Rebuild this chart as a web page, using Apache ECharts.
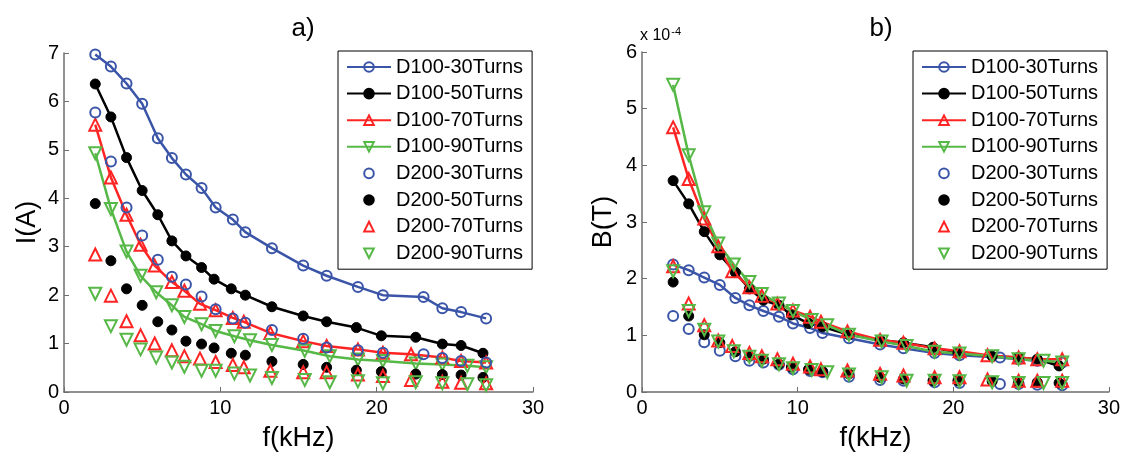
<!DOCTYPE html>
<html>
<head>
<meta charset="utf-8">
<script src="https://cdn.jsdelivr.net/npm/echarts@6/dist/echarts.min.js"></script>
<style>
  html, body { margin: 0; padding: 0; background: #fff; }
  #chart { width: 1123px; height: 457px; }
</style>
</head>
<body>
<div id="chart"></div>
<script>
// frequencies (kHz) per number of turns
var freq30 = [2, 3, 4, 5, 6, 6.9, 7.8, 8.8, 9.7, 10.8, 11.6, 13.3, 15.3, 16.8, 18.8, 20.4, 23, 24.2, 25.4, 27];
var freq50 = [2, 3, 4, 5, 6, 6.9, 7.8, 8.8, 9.6, 10.7, 11.6, 13.3, 15.3, 16.8, 18.7, 20.3, 22.5, 24.2, 25.4, 26.8];
var freq70 = [2, 3, 4, 4.9, 5.8, 6.9, 7.7, 8.7, 9.7, 10.8, 11.5, 13.2, 15.3, 16.8, 18.8, 20.4, 22.2, 24.2, 25.4, 27];
var freq90 = [2, 3, 4, 4.9, 5.9, 6.9, 7.7, 8.8, 9.7, 10.9, 11.9, 13.3, 15.4, 17, 18.8, 20.4, 22.5, 24.2, 25.8, 27];

var seriesNames = ['D100-30Turns', 'D100-50Turns', 'D100-70Turns', 'D100-90Turns',
                   'D200-30Turns', 'D200-50Turns', 'D200-70Turns', 'D200-90Turns'];

// a) current I(A)
var iD100_30 = [6.97, 6.72, 6.37, 5.95, 5.24, 4.83, 4.49, 4.21, 3.81, 3.56, 3.30, 2.97, 2.61, 2.40, 2.17, 2.00, 1.96, 1.73, 1.65, 1.52];
var iD100_50 = [6.36, 5.68, 4.84, 4.16, 3.66, 3.12, 2.81, 2.57, 2.33, 2.13, 2.00, 1.76, 1.57, 1.45, 1.33, 1.16, 1.13, 0.99, 0.96, 0.80];
var iD100_70 = [5.52, 4.43, 3.66, 3.04, 2.61, 2.27, 2.09, 1.82, 1.69, 1.53, 1.45, 1.22, 1.05, 0.95, 0.88, 0.81, 0.78, 0.71, 0.64, 0.61];
var iD100_90 = [4.93, 3.78, 2.90, 2.40, 2.06, 1.79, 1.55, 1.40, 1.26, 1.15, 1.07, 0.97, 0.85, 0.74, 0.67, 0.64, 0.59, 0.57, 0.54, 0.51];
var iD200_30 = [5.77, 4.76, 3.81, 3.23, 2.73, 2.38, 2.22, 1.97, 1.71, 1.52, 1.43, 1.28, 1.10, 0.92, 0.86, 0.81, 0.78, 0.70, 0.64, 0.61];
var iD200_50 = [3.89, 2.71, 2.13, 1.79, 1.45, 1.28, 1.05, 0.99, 0.91, 0.80, 0.76, 0.63, 0.57, 0.51, 0.45, 0.42, 0.37, 0.36, 0.35, 0.30];
var iD200_70 = [2.84, 1.99, 1.46, 1.17, 1.00, 0.86, 0.74, 0.69, 0.62, 0.56, 0.51, 0.44, 0.41, 0.41, 0.36, 0.33, 0.25, 0.21, 0.19, 0.18];
var iD200_90 = [2.03, 1.36, 1.08, 0.88, 0.71, 0.61, 0.52, 0.44, 0.44, 0.38, 0.34, 0.29, 0.25, 0.20, 0.22, 0.18, 0.20, 0.18, 0.16, 0.14];

// b) flux density B(T), x 10^-4
var bD100_30 = [2.25, 2.15, 2.02, 1.89, 1.66, 1.53, 1.43, 1.33, 1.21, 1.13, 1.04, 0.95, 0.84, 0.77, 0.69, 0.65, 0.61, 0.58, 0.55, 0.52];
var bD100_50 = [3.73, 3.32, 2.83, 2.42, 2.11, 1.82, 1.62, 1.53, 1.36, 1.21, 1.15, 1.01, 0.92, 0.87, 0.79, 0.69, 0.63, 0.61, 0.58, 0.46];
var bD100_70 = [4.67, 3.76, 3.06, 2.57, 2.13, 1.85, 1.70, 1.56, 1.44, 1.33, 1.24, 1.07, 0.92, 0.87, 0.77, 0.72, 0.65, 0.61, 0.58, 0.58];
var bD100_90 = [5.42, 4.18, 3.17, 2.62, 2.25, 1.94, 1.73, 1.56, 1.43, 1.27, 1.18, 1.01, 0.89, 0.81, 0.71, 0.68, 0.63, 0.58, 0.55, 0.52];
var bD200_30 = [1.34, 1.11, 0.88, 0.73, 0.63, 0.55, 0.52, 0.48, 0.40, 0.37, 0.35, 0.27, 0.21, 0.20, 0.17, 0.16, 0.14, 0.14, 0.13, 0.12];
var bD200_50 = [1.94, 1.34, 1.01, 0.87, 0.71, 0.63, 0.58, 0.49, 0.44, 0.40, 0.36, 0.32, 0.26, 0.23, 0.20, 0.20, 0.19, 0.17, 0.17, 0.16];
var bD200_70 = [2.22, 1.56, 1.18, 0.91, 0.81, 0.69, 0.63, 0.58, 0.50, 0.45, 0.40, 0.38, 0.32, 0.29, 0.26, 0.26, 0.22, 0.20, 0.20, 0.20];
var bD200_90 = [2.13, 1.43, 1.10, 0.89, 0.72, 0.62, 0.55, 0.49, 0.42, 0.39, 0.35, 0.31, 0.26, 0.20, 0.20, 0.19, 0.17, 0.16, 0.16, 0.16];

var xTicks = [0, 10, 20, 30];
var iTicks = [0, 1, 2, 3, 4, 5, 6, 7];
var bTicks = [0, 1, 2, 3, 4, 5, 6];

var BLUE = '#3a55a8', BLACK = '#000000', RED = '#ff2424', GREEN = '#56b846';
var FONT = '"Liberation Sans", Arial, sans-serif';
var AXIS_GRAY = '#6e6e6e';

function pairs(xs, ys) {
    return xs.map(function (x, i) { return [x, ys[i]]; });
}

// marker look per turn count
var markers = {
    30: { symbol: 'circle', size: 10, rotate: 0, hollow: true },
    50: { symbol: 'circle', size: 10, rotate: 0, hollow: false },
    70: { symbol: 'triangle', size: 12, rotate: 0, hollow: true },
    90: { symbol: 'triangle', size: 12, rotate: 180, hollow: true }
};

// D200 sets are markers only: drawn as line series with a hidden line,
// so the legend icon keeps the marker shape and rotation
function makeSeries(name, xs, ys, color, turns, withLine, idx) {
    var m = markers[turns];
    return {
        name: name,
        type: 'line',
        xAxisIndex: idx,
        yAxisIndex: idx,
        data: pairs(xs, ys),
        symbol: m.symbol,
        symbolSize: m.size,
        symbolRotate: m.rotate,
        symbolKeepAspect: true,
        showSymbol: true,
        showAllSymbol: true,
        lineStyle: withLine ? { color: color, width: 2.5 } : { color: color, width: 0, opacity: 0 },
        itemStyle: m.hollow
            ? { color: 'rgba(255,255,255,0)', borderColor: color, borderWidth: 2, opacity: 1 }
            : { color: color, borderColor: color, borderWidth: 1, opacity: 1 },
        emphasis: { disabled: true },
        animation: false
    };
}

function xAxisFor(idx) {
    return {
        gridIndex: idx,
        type: 'value',
        min: 0, max: 30, interval: 10,
        name: 'f(kHz)',
        nameLocation: 'middle',
        nameGap: 33,
        nameTextStyle: { fontFamily: FONT, fontSize: 27, color: '#000' },
        axisLine: { lineStyle: { color: AXIS_GRAY, width: 1.5 } },
        axisTick: { inside: true, length: 5, lineStyle: { color: AXIS_GRAY } },
        axisLabel: { fontFamily: FONT, fontSize: 20, color: '#000', margin: 6,
                     customValues: xTicks },
        splitLine: { show: false }
    };
}

function yAxisFor(idx, name, max, gap, ticks) {
    return {
        gridIndex: idx,
        type: 'value',
        min: 0, max: max, interval: 1,
        name: name,
        nameLocation: 'middle',
        nameGap: gap,
        nameTextStyle: { fontFamily: FONT, fontSize: 27, color: '#000' },
        axisLine: { show: true, lineStyle: { color: AXIS_GRAY, width: 1.5 } },
        axisTick: { show: true, inside: true, length: 5, lineStyle: { color: AXIS_GRAY } },
        axisLabel: { fontFamily: FONT, fontSize: 20, color: '#000', margin: 5,
                     customValues: ticks },
        splitLine: { show: false }
    };
}

function legendFor(left) {
    return {
        orient: 'vertical',
        left: left,
        top: 51,
        data: seriesNames,
        itemWidth: 44,
        itemHeight: 12,
        itemGap: 6.6,
        padding: [6, 9, 6, 8],
        borderColor: '#000',
        borderWidth: 1,
        selectedMode: false,
        textStyle: { fontFamily: FONT, fontSize: 20, color: '#000' }
    };
}

var chart = echarts.init(document.getElementById('chart'));

var option = {
    backgroundColor: '#fff',
    animation: false,
    title: [
        { text: 'a)', left: 298, top: 11, textAlign: 'center',
          textStyle: { fontFamily: FONT, fontSize: 26, fontWeight: 'normal', color: '#000' } },
        { text: 'b)', left: 876, top: 11, textAlign: 'center',
          textStyle: { fontFamily: FONT, fontSize: 26, fontWeight: 'normal', color: '#000' } }
    ],
    grid: [
        { left: 64, right: 590, top: 53, bottom: 59 },
        { left: 642, right: 14, top: 52, bottom: 59 }
    ],
    xAxis: [xAxisFor(0), xAxisFor(1)],
    yAxis: [yAxisFor(0, 'I(A)', 7, 23, iTicks), yAxisFor(1, 'B(T)', 6, 25, bTicks)],
    legend: [legendFor(338), legendFor(913)],
    graphic: [{
        type: 'text',
        left: 640,
        top: 26,
        style: {
            text: 'x 10{sup|-4}',
            font: '16px ' + FONT,
            fill: '#000',
            rich: { sup: { fontSize: 11, fontFamily: FONT, padding: [0, 0, 9, 1] } }
        }
    }],
    series: [
        makeSeries(seriesNames[0], freq30, iD100_30, BLUE, 30, true, 0),
        makeSeries(seriesNames[1], freq50, iD100_50, BLACK, 50, true, 0),
        makeSeries(seriesNames[2], freq70, iD100_70, RED, 70, true, 0),
        makeSeries(seriesNames[3], freq90, iD100_90, GREEN, 90, true, 0),
        makeSeries(seriesNames[4], freq30, iD200_30, BLUE, 30, false, 0),
        makeSeries(seriesNames[5], freq50, iD200_50, BLACK, 50, false, 0),
        makeSeries(seriesNames[6], freq70, iD200_70, RED, 70, false, 0),
        makeSeries(seriesNames[7], freq90, iD200_90, GREEN, 90, false, 0),

        makeSeries(seriesNames[0], freq30, bD100_30, BLUE, 30, true, 1),
        makeSeries(seriesNames[1], freq50, bD100_50, BLACK, 50, true, 1),
        makeSeries(seriesNames[2], freq70, bD100_70, RED, 70, true, 1),
        makeSeries(seriesNames[3], freq90, bD100_90, GREEN, 90, true, 1),
        makeSeries(seriesNames[4], freq30, bD200_30, BLUE, 30, false, 1),
        makeSeries(seriesNames[5], freq50, bD200_50, BLACK, 50, false, 1),
        makeSeries(seriesNames[6], freq70, bD200_70, RED, 70, false, 1),
        makeSeries(seriesNames[7], freq90, bD200_90, GREEN, 90, false, 1)
    ]
};

chart.setOption(option);
</script>
</body>
</html>
